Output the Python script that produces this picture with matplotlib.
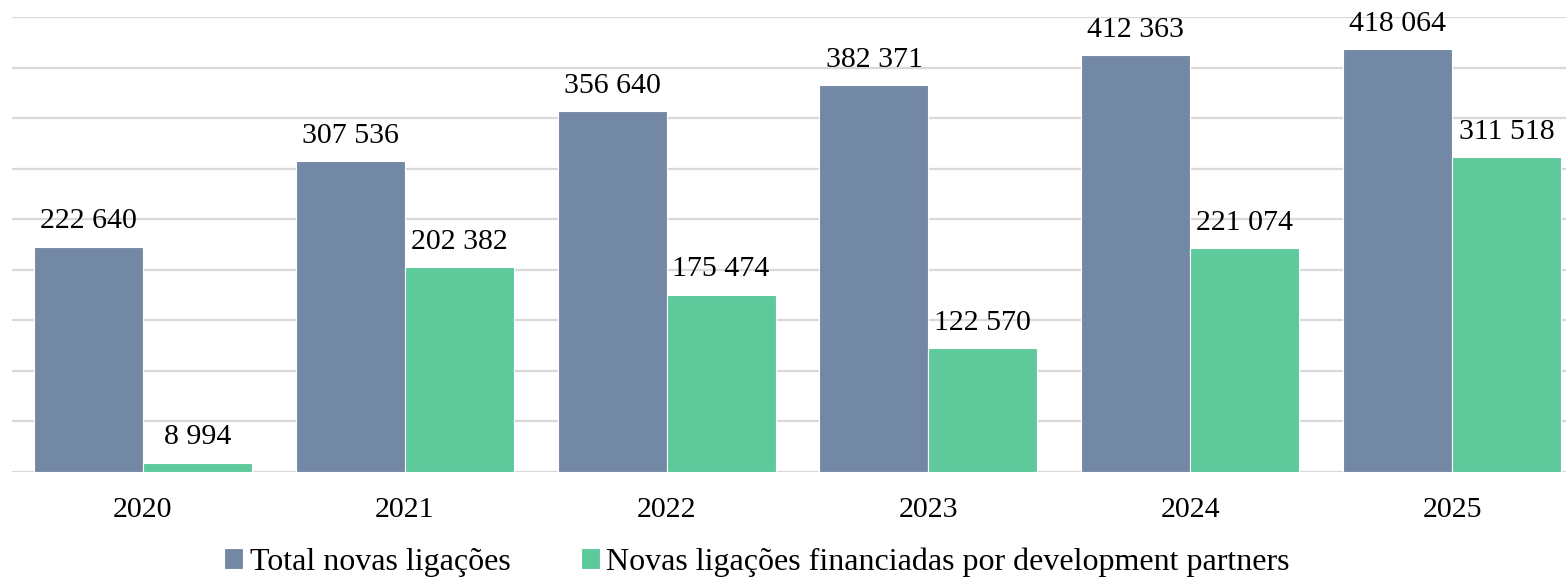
import matplotlib.pyplot as plt
import numpy as np

years = ['2020', '2021', '2022', '2023', '2024', '2025']
total = [222640, 307536, 356640, 382371, 412363, 418064]
financed = [8994, 202382, 175474, 122570, 221074, 311518]
series_names = ['Total novas ligações',
                'Novas ligações financiadas por development partners']

plt.rcParams['font.family'] = ['Liberation Serif', 'DejaVu Serif']

W, H = 1566, 579
fig = plt.figure(figsize=(W / 100, H / 100), dpi=100)
# plot area runs a bit past the right edge, like the cropped original
ax = fig.add_axes([12 / W, (H - 472) / H, 1571 / W, 455 / H])

x = np.arange(len(years))
w = 0.416
b1 = ax.bar(x - w / 2, total, w, color='#7388A5', edgecolor='white',
            linewidth=0.8, label=series_names[0], zorder=3)
b2 = ax.bar(x + w / 2, financed, w, color='#5EC99B', edgecolor='white',
            linewidth=0.8, label=series_names[1], zorder=3)

fmt = lambda v: f'{v:,}'.replace(',', ' ')
for bars, vals in [(b1, total), (b2, financed)]:
    for r, v in zip(bars, vals):
        ax.annotate(fmt(v), (r.get_x() + r.get_width() / 2, v),
                    xytext=(0, 9), textcoords='offset points',
                    ha='center', va='bottom', fontsize=21.5, clip_on=False)

ax.set_xlim(-0.5, 5.5)
ax.set_ylim(0, 450000)
ax.set_yticks(np.arange(0, 450001, 50000))
ax.yaxis.grid(True, color='#D9D9D9', linewidth=1.6, zorder=0)
ax.set_yticklabels([])
ax.tick_params(axis='y', length=0)
ax.set_xticks(x)
ax.set_xticklabels(years, fontsize=21.5)
ax.tick_params(axis='x', length=0, pad=18)
for s in ax.spines.values():
    s.set_visible(False)

fig.legend(loc='center', bbox_to_anchor=(757 / W, (H - 562) / H), ncol=2,
           frameon=False, fontsize=23, handlelength=0.6, handleheight=0.6,
           handletextpad=0.2, columnspacing=2.2)

fig.savefig('out.png', dpi=100)
